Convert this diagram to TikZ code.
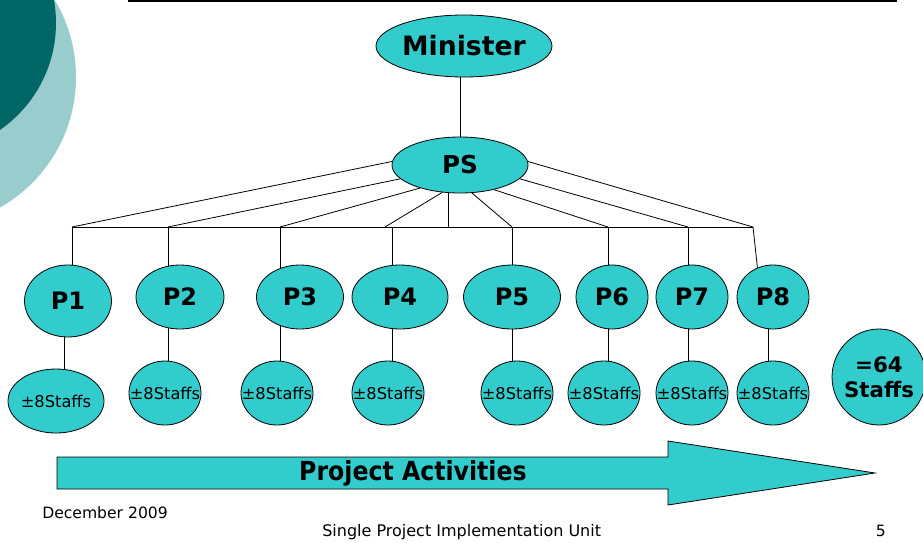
\documentclass[tikz,border=0pt]{standalone}
\usepackage{fontspec}
\setmainfont{DejaVu Sans}
\newfontfamily\condfont{DejaVu Sans Condensed}
\usetikzlibrary{shapes.geometric,backgrounds}
\definecolor{boxteal}{RGB}{51,204,204}
\definecolor{darkteal}{RGB}{0,102,102}
\definecolor{paleteal}{RGB}{153,204,204}
\tikzset{
  oval/.style={ellipse, draw=black, line width=0.6pt, fill=boxteal, inner sep=0pt},
  topnode/.style={oval, font=\bfseries\fontsize{20}{24}\selectfont},
  projnode/.style={oval, minimum width=54pt, minimum height=48pt, font=\bfseries\fontsize{18}{21}\selectfont},
  staffnode/.style={oval, minimum width=54pt, minimum height=48pt, font=\fontsize{12.2}{14}\selectfont},
  wire/.style={line width=0.6pt},
  foot/.style={inner sep=0pt, anchor=base west, font=\fontsize{11.7}{14}\selectfont}
}
\begin{document}
\begin{tikzpicture}[x=0.75pt,y=-0.75pt]
\useasboundingbox (0,0) rectangle (923,542);

% Top people
\node[topnode, minimum width=132pt, minimum height=46.5pt] (minister) at (464,46) {Minister};
\node[topnode, minimum width=102pt, minimum height=42pt, font=\bfseries\fontsize{18.5}{22}\selectfont] (ps) at (460,165) {PS};

% Projects
\node[projnode, minimum width=65.25pt, minimum height=54pt] (p1) at (68,301) {P1};
\node[projnode, minimum width=66pt] (p2) at (180,297) {P2};
\node[projnode, minimum width=65.25pt] (p3) at (300,297) {P3};
\node[projnode, minimum width=72pt] (p4) at (400,297) {P4};
\node[projnode, minimum width=72.75pt] (p5) at (512,297) {P5};
\node[projnode] (p6) at (612,297) {P6};
\node[projnode] (p7) at (692,297) {P7};
\node[projnode] (p8) at (773,297) {P8};

% Staff per project
\node[staffnode, minimum width=72pt] (s1) at (56,401) {\makebox[0pt]{±8Staffs}};
\node[staffnode] (s2) at (165,393) {\makebox[0pt]{±8Staffs}};
\node[staffnode] (s3) at (277,393) {\makebox[0pt]{±8Staffs}};
\node[staffnode] (s4) at (388,393) {\makebox[0pt]{±8Staffs}};
\node[staffnode] (s5) at (517,393) {\makebox[0pt]{±8Staffs}};
\node[staffnode] (s6) at (604,393) {\makebox[0pt]{±8Staffs}};
\node[staffnode] (s7) at (692,393) {\makebox[0pt]{±8Staffs}};
\node[staffnode] (s8) at (773,393) {\makebox[0pt]{±8Staffs}};
\node[oval, minimum width=70.5pt, minimum height=72pt, align=center,
  font=\bfseries\fontsize{16}{19}\selectfont] (total) at (879,377)
  {\makebox[0pt]{=64}\\\makebox[0pt]{Staffs}};

% Bus points
\coordinate (c1) at (72,227);
\coordinate (c2) at (168,227);
\coordinate (c3) at (280,227);
\coordinate (c4) at (392,227);
\coordinate (c5) at (512,227);
\coordinate (c6) at (608,227);
\coordinate (c7) at (688,227);
\coordinate (c8) at (753,227);
\coordinate (f4) at (385,227);
\coordinate (f5) at (448,227);

\begin{scope}[on background layer]
\fill[white] (0,0) rectangle (923,542);
\begin{scope}
\clip (0,0) rectangle (923,542);
\fill[paleteal] (-74,77) circle (150);
\fill[darkteal] (-74,23) circle (130);
\end{scope}

% Minister to PS
\draw[wire] (ps |- minister) -- (ps);

% PS fan to bus
\draw[wire] (ps.177) -- (c1);
\draw[wire] (ps.193) -- (c2);
\draw[wire] (ps.210) -- (c3);
\draw[wire] (ps.237) -- (f4);
\draw[wire] (ps.center -| f5) -- (f5);
\draw[wire] (ps.293) -- (c5);
\draw[wire] (ps.324) -- (c6);
\draw[wire] (ps.347) -- (c7);
\draw[wire] (ps.3) -- (c8);
\draw[wire] (c1) -- (c8);

% Bus to projects, projects to staff
\draw[wire] (c1) -- (c1 |- p1);
\draw[wire] ([xshift=-3pt]p1.center) -- ([xshift=-3pt]p1.center |- s1);
\foreach \i in {2,...,7}
  \draw[wire] (c\i) -- (c\i |- s\i);
\draw[wire] (c8) -- (p8.118);
\draw[wire] ([xshift=-3.75pt]p8.center) -- ([xshift=-3.75pt]p8.center |- s8);
\end{scope}

% Top rule
\draw[line width=1.5pt] (128,1) -- (897,1);

% Activity arrow
\draw[line width=0.6pt, fill=boxteal] (57,457) -- (668,457) -- (668,441) -- (875,473)
  -- (668,505) -- (668,489) -- (57,489) -- cycle;
\node[inner sep=0pt, font=\condfont\bfseries\fontsize{19.7}{23}\selectfont] (activities) at (413,473) {Project Activities};

% Footer
\node[foot] (date) at (42,518) {December 2009};
\node[foot, font=\fontsize{12}{14}\selectfont] (unit) at (322,536) {Single Project Implementation Unit};
\node[foot, anchor=base east] (page) at (886,536) {5};
\end{tikzpicture}
\end{document}
